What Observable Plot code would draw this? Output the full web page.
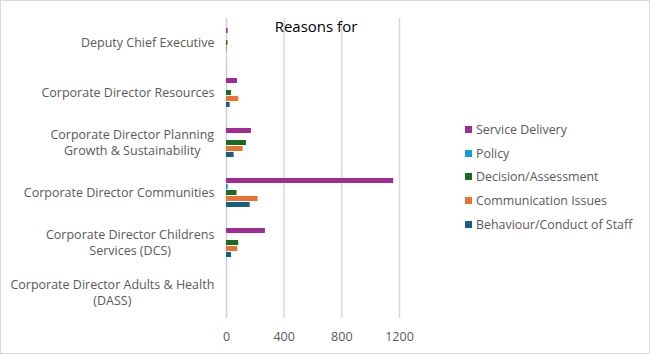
<!DOCTYPE html>
<html><head><meta charset="utf-8">
<script src="https://cdn.jsdelivr.net/npm/d3@7"></script>
<script src="https://cdn.jsdelivr.net/npm/@observablehq/plot@0.6"></script>
<style>
html,body{margin:0;padding:0;background:#fff;}
#wrap{position:relative;width:650px;height:354px;font-family:"Open Sans",sans-serif;overflow:hidden;}
#wrap svg{position:absolute;left:0;top:0;}
#border{position:absolute;left:0;top:0;width:650px;height:354px;box-sizing:border-box;border:1px solid #d9d9d9;pointer-events:none;}
#title{position:absolute;left:0;width:632px;top:16px;text-align:center;font-size:15px;color:#000;}
#legend{position:absolute;left:465px;top:118px;font-size:12.4px;color:#595959;}
.li{height:23.6px;display:flex;align-items:center;white-space:nowrap;}
.sw{width:7px;height:7px;margin-right:4px;display:inline-block;}
</style></head>
<body><div id="wrap"><div id="title">Reasons for</div><div id="legend"></div><div id="border"></div></div>
<script>
const categories = [
  "Deputy Chief Executive",
  "Corporate Director Resources",
  "Corporate Director Planning Growth & Sustainability",
  "Corporate Director Communities",
  "Corporate Director Childrens Services (DCS)",
  "Corporate Director Adults & Health (DASS)"
];
const categoryLines = [
  "Deputy Chief Executive",
  "Corporate Director Resources",
  "Corporate Director Planning\nGrowth & Sustainability",
  "Corporate Director Communities",
  "Corporate Director Childrens\nServices (DCS)",
  "Corporate Director Adults & Health\n(DASS)"
];
const series = ["Service Delivery","Policy","Decision/Assessment","Communication Issues","Behaviour/Conduct of Staff"];
const colors = ["#A02B93","#0F9ED5","#196B24","#E97132","#156082"];
const serviceDelivery = [11, 76, 173, 1160, 270, 0];
const policy          = [0, 0, 0, 12, 0, 0];
const decision        = [10, 35, 138, 73, 85, 0];
const communication   = [5, 85, 115, 219, 78, 0];
const behaviour       = [0, 25, 53, 164, 35, 0];
const xTicks = [0, 400, 800, 1200];

const valuesBySeries = [serviceDelivery, policy, decision, communication, behaviour];
const data = [];
categories.forEach((c, i) => series.forEach((s, j) => data.push({category: c, series: s, value: valuesBySeries[j][i]})));
const labelMap = new Map(categories.map((c, i) => [c, categoryLines[i]]));

const plot = Plot.plot({
  width: 650, height: 354,
  marginLeft: 226, marginRight: 251, marginTop: 16, marginBottom: 35,
  style: {fontFamily: '"Open Sans", sans-serif', fontSize: "12.5px", color: "#595959", background: "transparent"},
  fy: {domain: categories, padding: 0, label: null},
  y: {domain: series, axis: null, paddingInner: 0.1, paddingOuter: 1.14},
  x: {domain: [0, 1200], label: null},
  color: {domain: series, range: colors},
  marks: [
    Plot.gridX(xTicks.slice(1), {stroke: "#d9d9d9", strokeOpacity: 1, strokeWidth: 1.5}),
    Plot.ruleX([0], {stroke: "#d0d0d0", strokeWidth: 1.5}),
    Plot.barX(data, {fy: "category", y: "series", x: "value", fill: "series"}),
    Plot.axisFy({anchor: "left", tickSize: 0, tickPadding: 12, dy: -1.5, lineHeight: 1.3, fontSize: 12.5, label: null, tickFormat: d => labelMap.get(d)}),
    Plot.axisX(xTicks, {anchor: "bottom", tickSize: 0, tickPadding: 14, fontSize: 12.5, label: null, tickFormat: d => String(d)})
  ]
});
const wrap = document.getElementById("wrap");
wrap.insertBefore(plot, wrap.firstChild);

// center wrapped category labels (Excel-style centered blocks, right-aligned)
plot.querySelectorAll('[aria-label="fy-axis tick label"] text').forEach(t => {
  const tsp = t.querySelectorAll("tspan");
  if (tsp.length > 1) {
    const w = t.getBBox().width;
    t.setAttribute("text-anchor", "middle");
    const tr = t.getAttribute("transform") || "";
    t.setAttribute("transform", tr + ` translate(${-w/2},0)`);
  }
});

const color = plot.scale("color");
const legend = document.getElementById("legend");
series.forEach(s => {
  const d = document.createElement("div"); d.className = "li";
  const sw = document.createElement("span"); sw.className = "sw"; sw.style.background = color.apply(s);
  d.appendChild(sw); d.appendChild(document.createTextNode(s));
  legend.appendChild(d);
});
</script></body></html>
